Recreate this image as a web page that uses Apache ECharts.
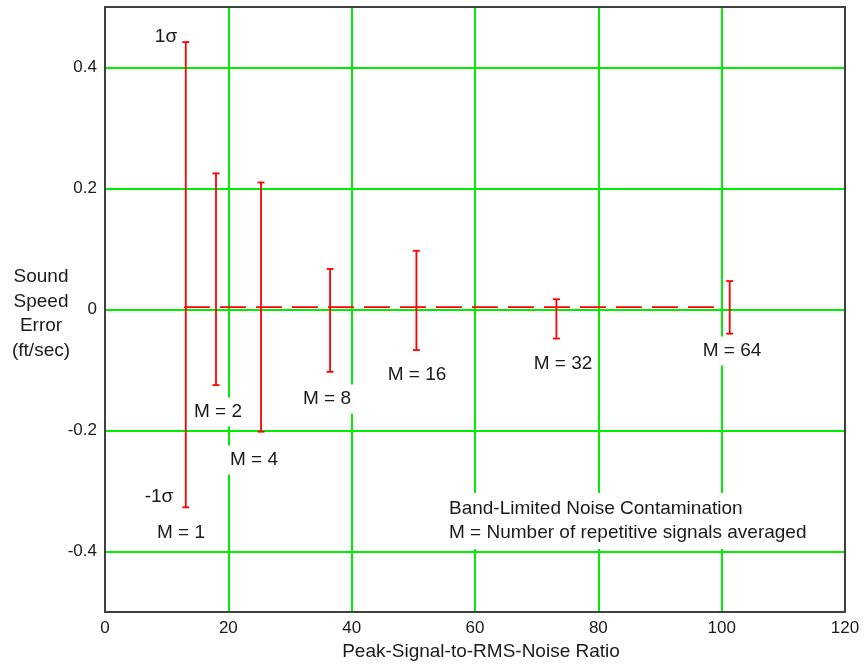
<!DOCTYPE html>
<html>
<head>
<meta charset="utf-8">
<script src="https://cdn.jsdelivr.net/npm/echarts@6/dist/echarts.min.js"></script>
<style>html,body{margin:0;padding:0;background:#fff}#c{width:865px;height:666px}</style>
</head>
<body>
<div id="c"></div>
<script>
// ---- data ----
const groupLabels = ['M = 1', 'M = 2', 'M = 4', 'M = 8', 'M = 16', 'M = 32', 'M = 64'];
const snrValues   = [13.1, 18.0, 25.3, 36.5, 50.5, 73.2, 101.3];
const upperSigma  = [0.442, 0.225, 0.210, 0.067, 0.097, 0.017, 0.047];
const lowerSigma  = [-0.327, -0.125, -0.202, -0.103, -0.067, -0.048, -0.040];
const meanLineX   = [12.8, 99.4];
const meanLineY   = [0.004, 0.004];
const xTicks = [0, 20, 40, 60, 80, 100, 120];
const yTicks = [-0.4, -0.2, 0, 0.2, 0.4];

const FONT = '"Liberation Sans", Arial, sans-serif';
const TXT = '#1a1a1a';
const chart = echarts.init(document.getElementById('c'), null, {renderer: 'canvas'});

const errData = snrValues.map((x, i) => [x, lowerSigma[i], upperSigma[i]]);
const meanData = meanLineX.map((x, i) => [x, meanLineY[i]]);

function frameAxis(pos, isX) {
  return {
    type: 'value', position: pos, min: isX ? 0 : -0.5, max: isX ? 120 : 0.5,
    z: 5,
    axisLine: {show: true, onZero: false, lineStyle: {color: '#404040', width: 2}},
    axisTick: {show: false}, axisLabel: {show: false}, splitLine: {show: false}
  };
}

function txt(text, x, y, align, extra) {
  return Object.assign({
    type: 'text', x: x, y: y, z: 100,
    style: {text: text, fill: TXT, font: '19px ' + FONT, align: align || 'center',
            verticalAlign: 'middle', backgroundColor: '#fff', padding: [5, 3]}
  }, extra || {});
}

chart.setOption({
  animation: false,
  backgroundColor: '#fff',
  grid: {left: 105, right: 20, top: 7, bottom: 54, containLabel: false},
  xAxis: [
    {
      type: 'value', position: 'bottom', min: 0, max: 120, interval: 20, z: 1,
      axisLine: {show: true, onZero: false, lineStyle: {color: '#404040', width: 2}},
      axisTick: {show: false},
      axisLabel: {margin: 8, color: TXT, fontSize: 17, fontFamily: FONT,
        formatter: v => xTicks.indexOf(v) >= 0 ? String(v) : ''},
      splitLine: {show: true, showMinLine: false, showMaxLine: false,
        lineStyle: {color: '#00ee00', width: 2}}
    },
    frameAxis('top', true)
  ],
  yAxis: [
    {
      type: 'value', position: 'left', min: -0.5, max: 0.5, z: 1,
      axisLine: {show: true, onZero: false, lineStyle: {color: '#404040', width: 2}},
      axisTick: {show: false, customValues: yTicks},
      axisLabel: {margin: 8, color: TXT, fontSize: 17, fontFamily: FONT,
        customValues: yTicks,
        formatter: v => String(Math.round(v * 10) / 10)},
      splitLine: {show: true, lineStyle: {color: '#00ee00', width: 2}}
    },
    frameAxis('right', false)
  ],
  series: [
    {
      type: 'line', data: meanData, xAxisIndex: 0, yAxisIndex: 0,
      symbol: 'none', z: 3,
      lineStyle: {color: '#ff0000', width: 1.8, type: [26, 10]}
    },
    {
      type: 'custom', data: errData, xAxisIndex: 0, yAxisIndex: 0, z: 4,
      encode: {x: 0, y: [1, 2]},
      renderItem: function (params, api) {
        const x = api.value(0);
        const lo = api.coord([x, api.value(1)]);
        const hi = api.coord([x, api.value(2)]);
        const hw = 3.5;
        const st = {stroke: '#ff0000', lineWidth: 1.8};
        return {
          type: 'group',
          children: [
            {type: 'line', shape: {x1: lo[0], y1: lo[1], x2: hi[0], y2: hi[1]}, style: st},
            {type: 'line', shape: {x1: hi[0] - hw, y1: hi[1], x2: hi[0] + hw, y2: hi[1]}, style: st},
            {type: 'line', shape: {x1: lo[0] - hw, y1: lo[1], x2: lo[0] + hw, y2: lo[1]}, style: st}
          ]
        };
      }
    }
  ],
  graphic: [
    txt('1σ', 166, 37),
    txt('-1σ', 159, 497),
    txt(groupLabels[0], 181, 533),
    txt(groupLabels[1], 218, 412),
    txt(groupLabels[2], 254, 460),
    txt(groupLabels[3], 327, 399),
    txt(groupLabels[4], 417, 375),
    txt(groupLabels[5], 563, 364),
    txt(groupLabels[6], 732, 351),
    {type: 'text', x: 446, y: 521, z: 100,
     style: {text: 'Band-Limited Noise Contamination\nM = Number of repetitive signals averaged',
       fill: TXT, font: '19px ' + FONT, align: 'left', verticalAlign: 'middle',
       lineHeight: 24, backgroundColor: '#fff', padding: [4, 3]}},
    {type: 'text', x: 41, y: 314, z: 100,
     style: {text: 'Sound\nSpeed\nError\n(ft/sec)', fill: TXT, font: '19px ' + FONT,
       align: 'center', verticalAlign: 'middle', lineHeight: 24.5}},
    {type: 'text', x: 481, y: 652, z: 100,
     style: {text: 'Peak-Signal-to-RMS-Noise Ratio', fill: TXT, font: '19px ' + FONT,
       align: 'center', verticalAlign: 'middle'}}
  ]
});
</script>
</body>
</html>
